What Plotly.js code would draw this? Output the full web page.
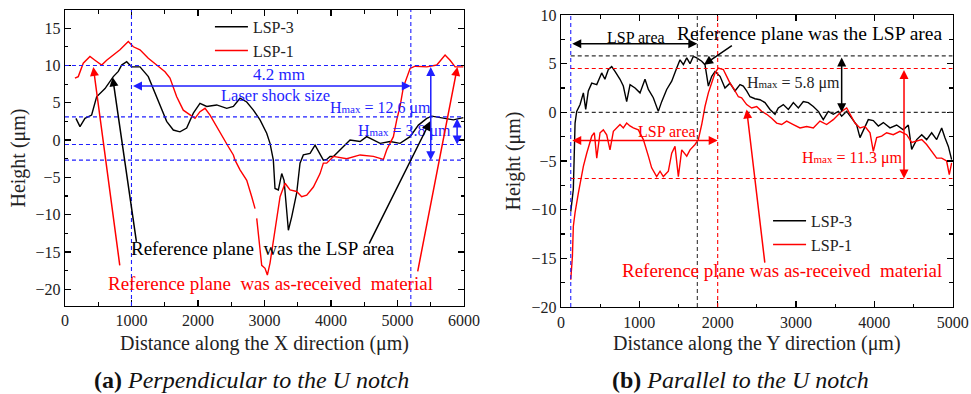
<!DOCTYPE html>
<html><head><meta charset="utf-8">
<script src="https://cdn.plot.ly/plotly-3.0.1.min.js"></script>
<style>body{margin:0;background:#fff}#c{width:971px;height:394px}</style>
</head><body><div id="c"></div>
<script>
// (a) Perpendicular to the U notch — X direction
const xA3 = [165,226,301,401,476,602,727,802,852,928,1003,1128,1253,1379,1529,1629,1729,1830,1930,2030,2131,2281,2432,2532,2632,2733,2833,2933,3033,3083,3133,3158,3208,3259,3294,3359,3409,3484,3534,3584,3685,3760,3835,3885,3935,3986,4036,4186,4286,4437,4537,4738,4888,5038,5189,5314,5440,5515,5690,5840,5990];
const yA3 = [2.9,1.8,2.9,3.35,5.8,6.9,8.5,9.2,10.05,10.5,9.8,9.8,8.5,5.8,2.5,1.34,1.1,1.6,3.6,4.9,4.5,4.7,4.25,4.5,5.6,5.1,4.0,2.7,0.9,-0.45,-2.7,-6.5,-6.7,-4.5,-5.4,-12.1,-10.3,-7.1,-3.1,-2.0,-1.8,-0.7,-2.0,-2.7,-2.6,-2.2,-2.2,-0.9,0,-0.2,0.45,-0.45,-0.2,-0.45,0.45,2.0,2.9,3.2,2.9,2.7,3.0];
const xA1 = [150,200,275,376,451,552,627,727,827,952,1028,1128,1253,1379,1504,1579,1680,1779,1880,1955,2030,2106,2181,2281,2381,2432,2457,2532,2557,2632,2733,2808,2858,2870,2883,2933,2958,3008,3043,3083,3133,3184,3234,3309,3384,3484,3559,3635,3735,3835,3885,3935,4036,4236,4437,4637,4788,4838,4888,4938,4988,5038,5088,5139,5189,5264,5440,5590,5665,5715,5790,5866,5990];
const yA1 = [8.3,8.5,10.3,11.2,10.7,10.05,10.7,11.4,12.1,13.2,12.5,12.1,10.95,10.05,9.15,8.3,5.8,4.0,3.35,2.9,3.8,4.25,3.35,1.8,0.2,-0.7,-0.9,-2.0,-2.7,-4.0,-5.4,-7.6,-9.2,null,-10.5,-14.7,-16.8,-17.2,-18.1,-16.5,-13.4,-10.3,-7.6,-5.8,-6.7,-6.9,-7.6,-7.4,-6.3,-4.5,-3.1,-3.1,-2.2,-2.5,-2.0,-2.2,-2.6,-1.3,-0.45,0.45,2.7,4.5,7.1,8.3,9.6,9.9,9.8,10.05,10.95,11.4,10.7,9.8,9.8];

// (b) Parallel to the U notch — Y direction
const xB3 = [124,157,179,200,243,285,315,348,392,456,519,560,604,647,689,753,795,838,881,945,1008,1072,1115,1178,1242,1285,1349,1413,1477,1519,1562,1605,1647,1689,1732,1796,1838,1881,1924,1966,2030,2093,2157,2221,2285,2327,2370,2413,2476,2540,2604,2668,2732,2774,2838,2902,2966,3030,3093,3157,3221,3285,3348,3412,3476,3540,3583,3647,3711,3775,3817,3859,3923,3987,4051,4115,4200,4285,4370,4434,4477,4541,4605,4668,4732,4796,4860,4902,4945,4987];
const yB3 = [-10.2,-7.9,-1.1,0.1,0.8,2.0,0.3,2.2,3.0,2.85,4.05,3.4,4.4,4.7,4.2,3.4,2.7,1.1,2.85,2.5,2.0,3.4,2.35,1.5,0.1,1.1,2.35,3.2,4.55,5.4,4.9,5.6,5.0,5.75,5.6,5.25,4.9,2.7,3.7,4.2,3.7,2.5,3.0,2.2,2.85,2.7,2.2,1.6,1.4,1.3,1.0,0.3,-0.2,0.45,0.8,0.3,1.0,0.45,1.1,1.0,0.6,0.1,-0.75,0.1,-0.2,0.1,-0.4,0.1,-0.6,-1.3,-2.6,-1.8,-0.75,-0.85,-1.4,-1.05,-1.6,-1.3,-1.8,-1.3,-3.8,-2.8,-2.3,-2.8,-2.1,-2.8,-1.6,-2.6,-3.5,-4.85];
const xB1 = [124,145,157,179,221,264,285,328,392,425,456,498,540,583,625,668,711,753,795,838,880,923,987,1051,1115,1157,1221,1264,1306,1370,1413,1455,1498,1541,1605,1647,1711,1753,1796,1838,1881,1924,1966,2008,2072,2115,2157,2200,2264,2306,2370,2434,2498,2562,2626,2689,2753,2817,2881,2966,3051,3136,3221,3306,3391,3476,3540,3583,3647,3689,3753,3817,3881,3945,3987,4030,4094,4157,4242,4327,4413,4477,4541,4605,4668,4732,4796,4860,4923,4957,4987];
const yB1 = [-17.2,-14.8,-11.7,-10.3,-8.3,-6.2,-5.55,-4.2,-2.45,-2.1,-4.7,-2.1,-1.8,-2.3,-3.85,-1.95,-1.6,-1.25,-1.6,-1.1,-1.4,-1.6,-1.8,-2.8,-4.5,-5.7,-6.6,-6.05,-6.6,-6.05,-4.2,-3.5,-6.6,-3.85,-4.5,-3.85,-3.3,-2.8,-1.25,0.6,2.0,3.0,4.05,4.55,4.4,3.7,3.0,2.5,1.6,1.5,0.8,0.45,0.6,0.1,-0.2,-0.6,-1.1,-1.25,-0.9,-1.25,-1.6,-1.45,-1.6,-0.9,-1.25,-0.75,-0.2,0.1,0.45,-0.2,-1.1,-1.6,-1.45,-2.1,-4.0,-2.6,-2.45,-2.1,-2.3,-1.95,-2.3,-3.1,-2.95,-2.8,-3.3,-4.0,-4.7,-4.7,-5.0,-6.4,-5.2];

const seriesNames = ['LSP-3','LSP-1'];
const F = 'Liberation Serif, Times New Roman, serif';
const BLUE = '#1f1fff', RED = '#ff0000', BLK = '#000000';

const traces = [
  {x:xA3,y:yA3,name:seriesNames[0],mode:'lines',line:{color:BLK,width:1.4},xaxis:'x',yaxis:'y',legend:'legend',connectgaps:false},
  {x:xA1,y:yA1,name:seriesNames[1],mode:'lines',line:{color:RED,width:1.4},xaxis:'x',yaxis:'y',legend:'legend',connectgaps:false},
  {x:xB3,y:yB3,name:seriesNames[0],mode:'lines',line:{color:BLK,width:1.4},xaxis:'x2',yaxis:'y2',legend:'legend2'},
  {x:xB1,y:yB1,name:seriesNames[1],mode:'lines',line:{color:RED,width:1.4},xaxis:'x2',yaxis:'y2',legend:'legend2'}
];

const MINOR = {ticks:'inside',ticklen:3.5,tickwidth:1.1,tickcolor:'#000'};
function ax(extra){
  return Object.assign({showline:true,mirror:'allticks',linecolor:'#000',linewidth:1.3,ticks:'inside',ticklen:6,tickwidth:1.2,
    tickcolor:'#000',showgrid:false,zeroline:false,tickfont:{family:F,size:16,color:'#222'}},extra);
}
function hl(xr,yr,y,x0,x1,c){return {type:'line',xref:xr,yref:yr,x0:x0,x1:x1,y0:y,y1:y,line:{color:c,width:1.1,dash:'4px,3px'}};}
function vl(xr,yr,x,c){return {type:'line',xref:xr,yref:'paper',x0:x,x1:x,y0:yr[0],y1:yr[1],line:{color:c,width:1.1,dash:'4px,3px'}};}

const yDomA=[0.2234,0.9746], yDomB=[0.2208,0.9619];
const shapes = [
  hl('x','y',10,0,6000,BLUE), hl('x','y',3.1,0,6000,BLUE), hl('x','y',-0.6,0,6000,BLUE), hl('x','y',-2.7,0,6000,BLUE),
  vl('x',yDomA,1000,BLUE), vl('x',yDomA,5200,BLUE),
  hl('x2','y2',5.8,124,5000,'#333'), hl('x2','y2',0,124,5000,'#333'),
  hl('x2','y2',4.5,124,5000,RED), hl('x2','y2',-6.8,124,5000,RED),
  vl('x2',yDomB,124,BLUE), vl('x2',yDomB,1740,'#333'), vl('x2',yDomB,2000,RED)
];

function arrow(xr,yr,x,y,x0,y0,c,dbl){
  const a={xref:xr,yref:yr,axref:xr,ayref:yr,x:x,y:y,ax:x0,ay:y0,text:'',showarrow:true,arrowcolor:c,arrowwidth:1.5,arrowhead:2,arrowsize:1.2,standoff:0,startstandoff:0};
  if(dbl){a.arrowside='end+start';a.startarrowhead=2;a.startarrowsize=1.2;}
  return a;
}
function txt(xr,yr,x,y,t,c,s,extra){return Object.assign({xref:xr,yref:yr,x:x,y:y,text:t,showarrow:false,xanchor:'center',yanchor:'middle',font:{family:F,size:s,color:c}},extra||{});}
const sub = s=>'H<span style="font-size:11px">max</span> = '+s+' μm';

const annotations = [
  // (a)
  arrow('x','y',5200,7.25,1000,7.25,BLUE,true),
  txt('x','y',3218,8.85,'4.2 mm',BLUE,17),
  txt('x','y',3170,6.0,'Laser shock size',BLUE,16.5),
  arrow('x','y',5500,-2.7,5500,10,BLUE,true),
  txt('x','y',4740,4.3,sub('12.6'),BLUE,16),
  arrow('x','y',5896,-0.6,5896,3.1,BLUE,true),
  txt('x','y',5098,1.2,sub('3.8'),BLUE,16),
  arrow('x','y',717,8.4,1078,-13.85,BLK,false),
  arrow('x','y',5490,2.5,4562,-14.1,BLK,false),
  arrow('x','y',426,9.8,827,-17.0,RED,false),
  arrow('x','y',5900,9.8,5299,-17.8,RED,false),
  txt('x','y',2970,-14.6,'Reference plane  was the LSP area',BLK,19),
  txt('x','y',3095,-19.3,'Reference plane  was as-received  material',RED,19),
  // (b)
  arrow('x2','y2',1740,7.05,124,7.05,BLK,true),
  txt('x2','y2',951,7.74,'LSP area',BLK,16),
  txt('x2','y2',3175,8.05,'Reference plane was the LSP area',BLK,19.5),
  arrow('x2','y2',1825,4.9,2200,6.95,BLK,false),
  arrow('x2','y2',3583,0,3583,5.8,BLK,true),
  txt('x2','y2',2962,3.0,sub('5.8'),'#222',16),
  arrow('x2','y2',2000,-2.9,124,-2.9,RED,true),
  txt('x2','y2',1349,-1.95,'LSP area',RED,16),
  arrow('x2','y2',4379,-6.8,4379,4.5,RED,true),
  txt('x2','y2',3721,-4.68,sub('11.3'),RED,16),
  arrow('x2','y2',2370,0.3,2604,-15.6,RED,false),
  txt('x2','y2',2827,-16.2,'Reference plane was as-received  material',RED,19),
  // captions
  txt('paper','paper',0.2585,0.0355,'<b>(a)</b> <i>Perpendicular to the U notch</i>','#111',24),
  txt('paper','paper',0.763,0.0355,'<b>(b)</b> <i>Parallel to the U notch</i>','#111',24)
];

const TF = {family:F,size:20,color:'#222'};
const layout = {
  width:971,height:394,margin:{l:0,r:0,t:0,b:0},paper_bgcolor:'#fff',plot_bgcolor:'#fff',
  font:{family:F,color:'#222'},
  xaxis: ax({domain:[0.0669,0.4779],range:[0,6000],dtick:1000,tick0:0,minor:Object.assign({dtick:500},MINOR),
    title:{text:'Distance along the X direction (μm)',font:TF,standoff:7},anchor:'y'}),
  yaxis: ax({domain:yDomA,range:[-22.25,17.43],dtick:5,tick0:0,minor:Object.assign({dtick:2.5},MINOR),
    title:{text:'Height (μm)',font:TF,standoff:4},anchor:'x'}),
  xaxis2: ax({domain:[0.5778,0.9811],range:[0,5000],dtick:1000,tick0:0,minor:Object.assign({dtick:500},MINOR),
    title:{text:'Distance along the Y direction (μm)',font:TF,standoff:6},anchor:'y2'}),
  yaxis2: ax({domain:yDomB,range:[-20,10],dtick:5,tick0:0,minor:Object.assign({dtick:2.5},MINOR),
    title:{text:'Height (μm)',font:TF,standoff:5},anchor:'x2'}),
  showlegend:true,
  legend:{x:0.2162,y:0.975,xanchor:'left',yanchor:'top',bgcolor:'rgba(0,0,0,0)',font:{family:F,size:16,color:'#222'},tracegroupgap:0,itemwidth:33},
  legend2:{x:0.791,y:0.4826,xanchor:'left',yanchor:'top',bgcolor:'rgba(0,0,0,0)',font:{family:F,size:16,color:'#222'},tracegroupgap:0,itemwidth:33},
  shapes:shapes, annotations:annotations
};
Plotly.newPlot('c',traces,layout,{displayModeBar:false,staticPlot:true});
</script></body></html>
